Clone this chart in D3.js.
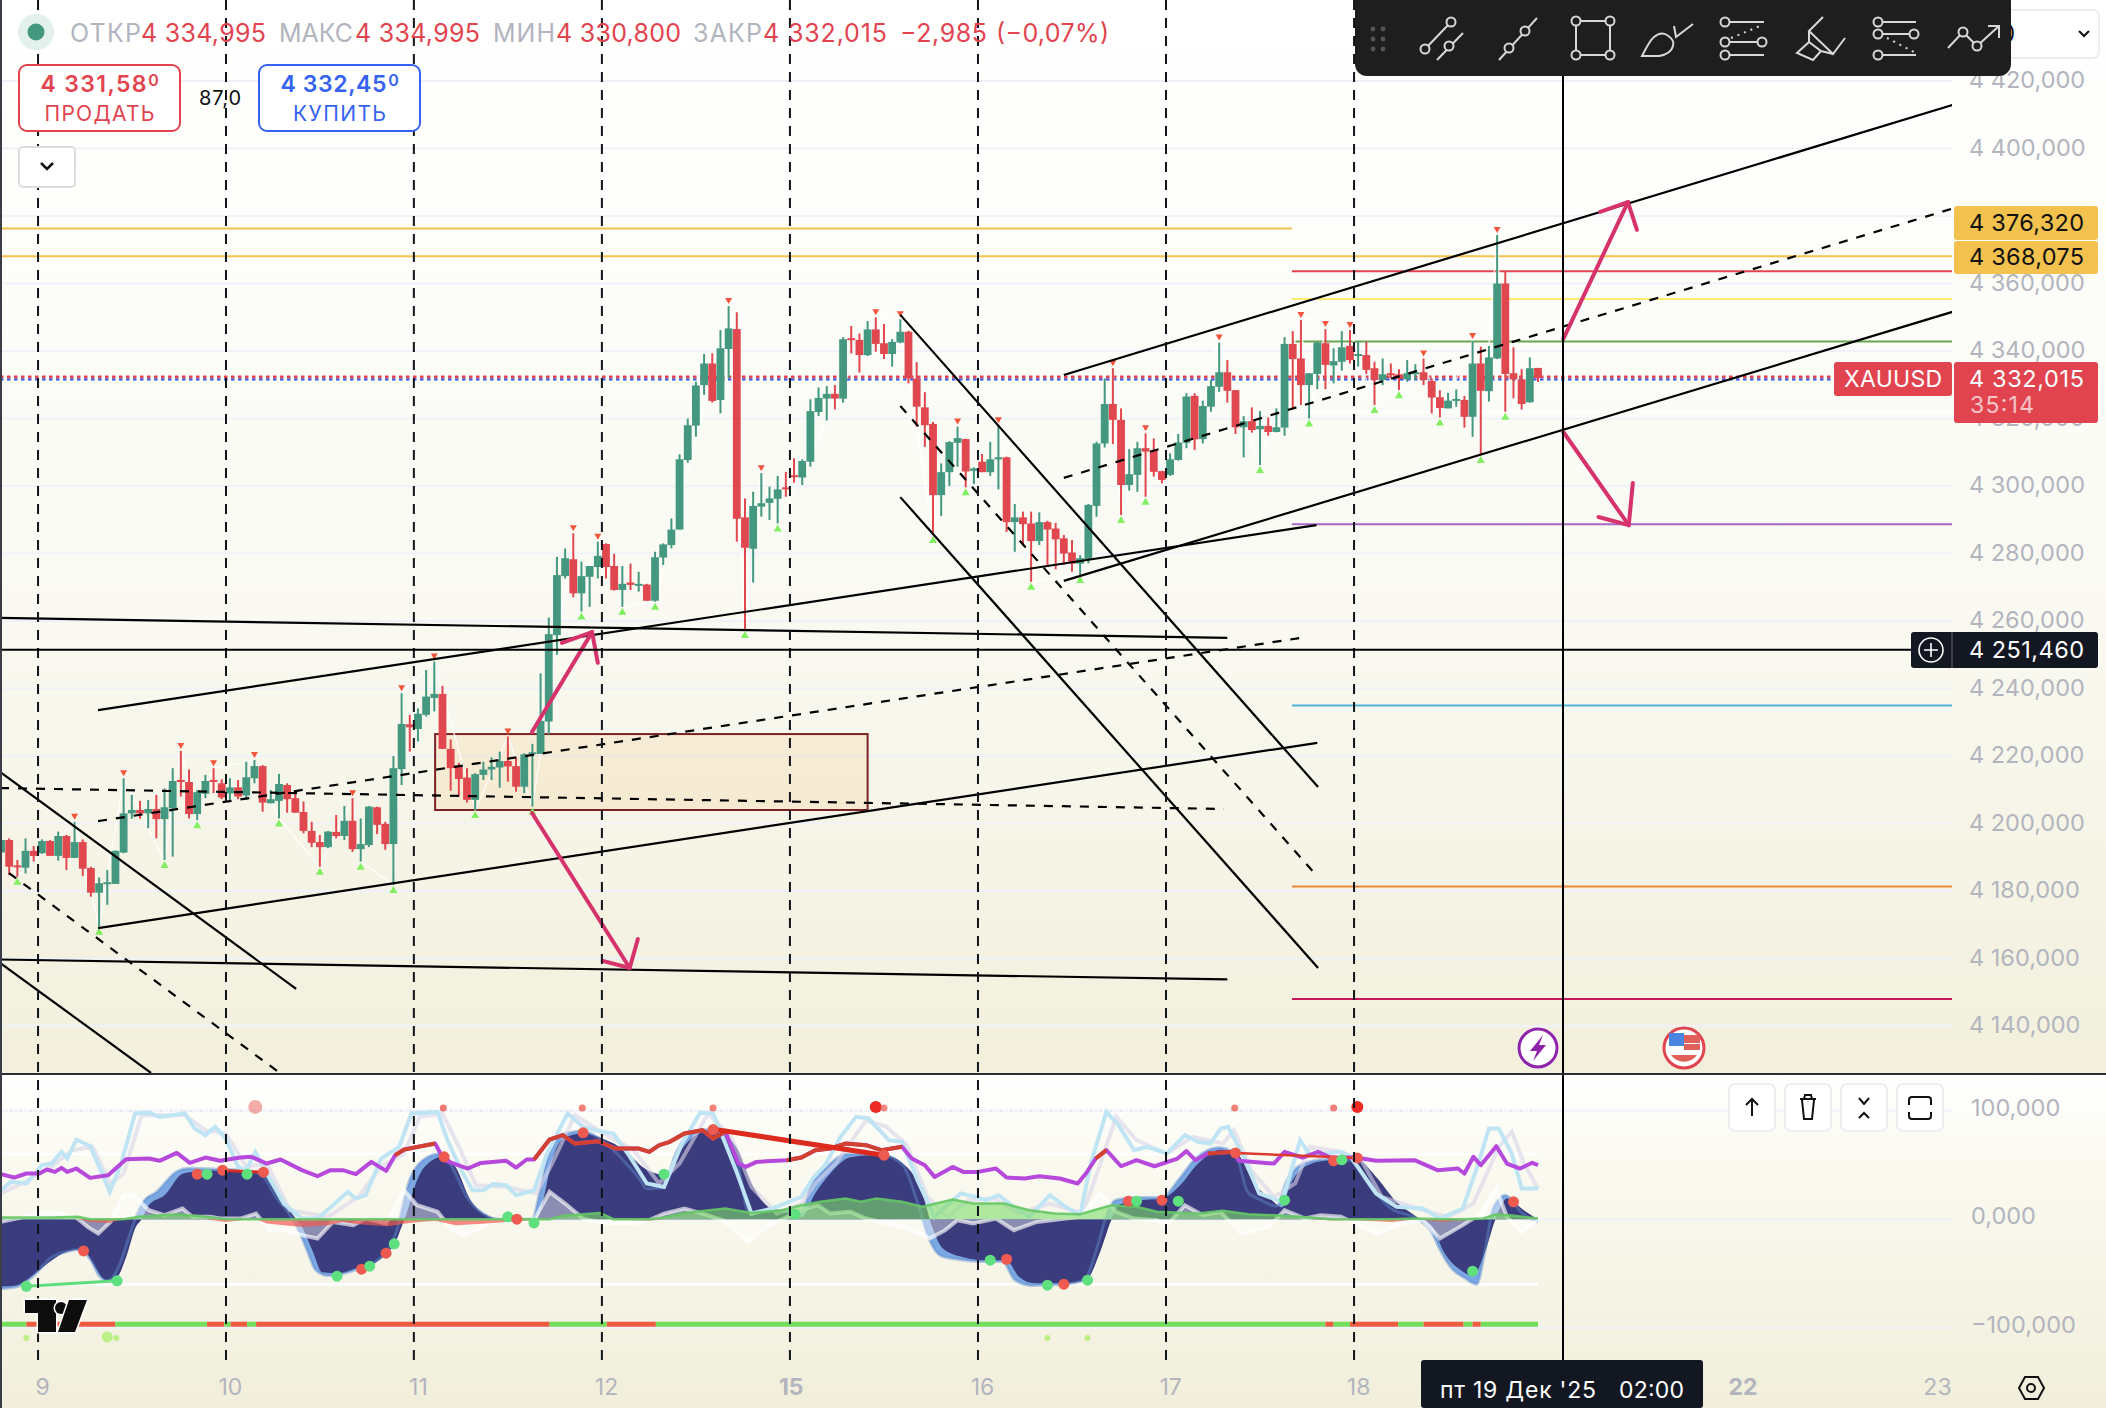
<!DOCTYPE html>
<html><head><meta charset="utf-8">
<script src="https://cdn.jsdelivr.net/npm/d3@7/dist/d3.min.js"></script>
<style>html,body{margin:0;padding:0;background:#fff}svg{display:block}text{font-family:Inter,"Noto Sans",sans-serif}</style>
</head><body><svg id="c" width="2106" height="1408"></svg>
<script>
const opens=[4191.4,4195.1,4187.6,4186.9,4191.9,4191.2,4194.8,4190.4,4196.3,4189.8,
4194.5,4186.8,4179.5,4182.1,4182.1,4191.4,4203,4204,4203,4204.3,
4201.3,4204.5,4212.9,4212.3,4202.8,4208.8,4212.9,4211.9,4208.9,4210.7,
4208.3,4213.4,4217,4206,4206.7,4211.4,4207.5,4203.4,4197.8,4194.5,
4193,4197.5,4196.3,4200.8,4192.4,4193.6,4204.8,4199.9,4193.9,4216.1,
4229.4,4228,4232.2,4237.2,4238.4,4222.1,4216.9,4213.6,4207,4214.4,
4216,4216.6,4218.5,4217,4210.9,4220.5,4220.6,4230.2,4255.8,4273.3,
4278.3,4268.2,4273.1,4276,4282.8,4276.3,4269.2,4271.4,4270.4,4270.8,
4266,4278.8,4282.5,4287.1,4307.7,4317.9,4329.9,4336.3,4325.5,4340.6,
4346.5,4290.7,4281.4,4293.9,4295,4296.2,4299.6,4303.2,4302.5,4307.2,
4321.9,4325.9,4327.3,4325.9,4343.8,4343.3,4338.8,4346.4,4342.3,4339.1,
4342.5,4345.7,4331.8,4323.3,4318.4,4297.3,4304.1,4312.8,4313.9,4304.5,
4307.2,4304.1,4307.9,4308.5,4289.3,4290.7,4288.9,4283.7,4289.3,4287.4,
4284.5,4280.3,4277,4278.3,4294.1,4312.6,4324.3,4319.6,4300.3,4303.3,
4311.2,4310.5,4304.4,4303.3,4307.7,4312.8,4326.7,4313.9,4323.5,4329.4,
4333.7,4328.4,4317.4,4319.2,4316.8,4317.8,4316,4317.3,4342.1,4337.8,
4329.9,4333.2,4342.3,4335.7,4336.8,4341.5,4338.6,4338.8,4334.9,4331.4,
4333.4,4333.1,4331.6,4333.1,4333.7,4331.1,4326.3,4323,4325.3,4325.5,
4320.5,4336.3,4328.1,4337.8,4360,4333.4,4331.6,4324.8,4334.995];
const highs=[4195.6,4195.6,4189.2,4195.6,4193.3,4195.3,4195.1,4197.6,4196.6,4200.5,
4195.3,4187.2,4184,4186.2,4192,4213.4,4208.5,4206.7,4207,4208.5,
4210.4,4216.4,4221.5,4216,4209.9,4214.4,4216.4,4213.1,4213.4,4212.9,
4218.3,4218.8,4217.3,4209.9,4214.7,4211.9,4209.2,4206.5,4200.5,4196.6,
4197.8,4202.5,4205.2,4207.5,4201.5,4205.2,4205,4200.5,4220,4238.6,
4232.2,4234.1,4245.5,4248,4240.8,4224.9,4218,4216.4,4214.9,4218.3,
4219.6,4221.3,4225.8,4219.6,4220.8,4223.6,4244.5,4261,4279,4281.5,
4286,4277.6,4276.3,4283.5,4283,4279.9,4276.3,4277,4274.6,4271,
4280.5,4283,4290.4,4309.4,4320,4330.9,4339.1,4339.3,4346.2,4353.3,
4351.5,4296.3,4298.3,4303.8,4299.8,4303,4304.2,4308.2,4307.9,4325.7,
4329.2,4329.6,4329.9,4344.1,4347.4,4345.2,4348.9,4350,4348,4343.5,
4349.4,4346,4336.7,4327.8,4319,4306.7,4313.3,4317.6,4314,4305.5,
4309.5,4313.1,4318,4308.7,4294.7,4292.4,4292.4,4292.2,4289.7,4289.1,
4285.5,4284,4279.5,4294.7,4313.1,4331.9,4334.9,4323,4310.9,4313.1,
4315.6,4314.1,4304.5,4309.7,4315.4,4327.5,4327.5,4325.3,4331.4,4342.5,
4337.3,4328.4,4320.7,4323.3,4322.2,4320.3,4323,4344.1,4345.9,4349.2,
4333.4,4342.8,4346.5,4340.8,4345.9,4346.2,4342.8,4342.8,4336.8,4337.8,
4336.3,4334.6,4337.3,4336.1,4337.8,4331.9,4328.4,4327.6,4328.6,4326.7,
4343,4341.3,4341.5,4374.4,4363.5,4341.1,4334.6,4338.1,4334.995];
const lows=[4191,4184.7,4184.2,4185.2,4188.7,4191,4190.4,4189,4186.2,4189.8,
4184.4,4178.3,4169.4,4175.9,4182.1,4191.2,4201.4,4201.4,4198.6,4195.6,
4189.2,4190.2,4208,4201.5,4201,4207.5,4209,4207.2,4206.5,4207.2,
4207,4211.9,4203.5,4206,4201.5,4203.2,4203.2,4197.1,4193,4187.2,
4192.7,4195.6,4195.1,4191.6,4188.7,4193,4196.9,4192.2,4181.8,4211.4,
4221.3,4224.3,4231.7,4233.2,4222.1,4209.7,4208,4206.2,4204,4212.9,
4212.9,4210.6,4212.4,4209.4,4209,4205,4220.6,4226.4,4250,4272.6,
4267,4262.8,4264.2,4272.6,4272.6,4269,4264.2,4269.2,4268.7,4266,
4265.7,4276.6,4281.5,4287.1,4306.9,4314.6,4327,4324.7,4321.5,4331.9,
4283.5,4257.3,4271.4,4290.9,4289.9,4288.9,4296.8,4301,4300.3,4305.7,
4320.7,4319.4,4322.7,4324.7,4339.3,4333.6,4338.5,4339.8,4337.6,4335.4,
4342.3,4330.4,4317.6,4311.6,4285.5,4291.1,4300,4305.7,4299.6,4300.6,
4304.1,4303,4299,4286.4,4280.5,4282.5,4271.6,4282.5,4276.6,4275.3,
4276.6,4274.6,4273.6,4277.1,4290.9,4311.4,4312.4,4291.4,4298.6,4298.3,
4296.8,4302.8,4300.8,4303,4307.5,4311.2,4310.7,4312.6,4322,4327.9,
4324.7,4315.4,4308.5,4315.8,4306.2,4314.9,4315.9,4314.9,4323.2,4324,
4320,4328.7,4328.7,4330.4,4334.2,4336.3,4335.4,4333.2,4324,4329.9,
4331.9,4328.4,4330.9,4331.4,4329.9,4321.5,4320.3,4323,4323.5,4317.3,
4314.6,4309.2,4325,4337.6,4322,4326,4322.7,4324.7,4330.8];
const closes=[4195.1,4187.2,4187.2,4191.9,4190.4,4194.8,4190.4,4196.3,4189.8,4194.5,
4186.6,4179.5,4182.3,4182.6,4191.9,4203,4204,4203,4204.3,4201.3,
4204.8,4212.6,4212.3,4202.8,4209.3,4212.6,4212.4,4207.7,4210.7,4208,
4213.7,4217,4206.2,4207.2,4211.7,4207.2,4203.2,4197.8,4194.3,4193,
4197.6,4196.3,4200.8,4192.4,4193.9,4205,4199.6,4193.9,4216.4,4229.5,
4228.5,4232.5,4237.6,4238.4,4222.1,4216.4,4213.2,4207,4214.6,4216,
4216.8,4218.5,4216.9,4210.9,4220.5,4221.1,4230.4,4256.1,4273.6,4278.6,
4268.2,4273.3,4276.3,4279.3,4276,4269.2,4271,4270.7,4271,4266,
4278.9,4282.7,4287.1,4307.9,4318,4329.8,4336.3,4325.2,4340.8,4346.7,
4290.3,4281.7,4294.1,4294.9,4296.3,4299,4299.2,4302.8,4307.4,4322.2,
4326.1,4327.3,4325.9,4343.5,4343.4,4338.8,4346.4,4342.1,4339.1,4342.7,
4345.7,4331.9,4323.5,4318,4297.3,4304.1,4313,4314.2,4304.3,4305.2,
4304.1,4307.9,4308.5,4289.3,4290.7,4288.7,4283.7,4289.3,4287.1,4284.2,
4280,4277,4278.6,4294.4,4312.6,4324.3,4319.6,4300.3,4303.5,4311.2,
4310.2,4304.2,4301.8,4307.9,4312.9,4326.5,4313.8,4323.7,4329.6,4333.7,
4328.2,4317.4,4319.2,4316.6,4317.8,4316,4317.4,4342.1,4337.6,4329.9,
4333.4,4342.5,4335.9,4337,4341.1,4337.3,4339.1,4334.4,4331.4,4333.1,
4332.9,4331.7,4333.4,4333.7,4331.4,4326.2,4323.1,4325.3,4325.8,4320.5,
4336.3,4328.2,4338.1,4360,4333.2,4331.6,4324.3,4334.9,4332.015];

const pivotHighs=[9,15,22,26,31,43,49,53,62,70,73,89,93,107,110,117,122,136,140,149,159,162,165,174,180,183];
const pivotLows=[2,12,20,24,34,39,44,48,58,65,71,76,80,91,95,114,118,126,132,137,140,154,160,168,171,176,181,184];

const priceTicks=d3.range(4140,4421,20);
const oscTicks=[100,0,-100];
const dayBars=[4.53,27.52,50.5,73.5,96.5,119.5,142.5,165.5];
const dayLabels=[[5.02,"9",400],[28,"10",400],[51,"11",400],[74,"12",400],[96.6,"15",700],[120,"16",400],[143,"17",400],[166,"18",400],[213,"22",700],[236.8,"23",400]];

const solidLines=[[[11.87,4233.6],[160.9,4288.4]],[[11.87,4169],[161,4223.9]],[[130,4332.9],[238.7,4412.9]],[[130,4271.9],[238.7,4351.6]],[[110,4350.7],[161.1,4210.8]],[[110,4296.7],[161.1,4157.2]],[[-0.12,4215.3],[36.1,4151]],[[-0.12,4158.7],[18.35,4126.1]],[[-0.12,4260.9],[150,4255]],[[-0.12,4159.7],[150,4153.8]]];
const dashedLines=[[[11.87,4200.7],[159.8,4255.3]],[[130,4302.4],[238.7,4382.2]],[[110,4323.7],[161.1,4184.1]],[[0.98,4185.3],[34.1,4126.1]],[[-0.12,4210.5],[149.6,4204.3]]];
const levels=[[4376.32,-0.12,157.9,"#f2c14e"],[4368.075,-0.12,238.7,"#f2c14e"],[4363.6,157.9,238.7,"#e2444f"],[4355.4,157.9,238.7,"#fdeb6e"],[4349.2,157.9,191,"#ffffff"],[4342.8,158,238.7,"#6aa84f"],[4322,157.9,238.7,"#ffffff"],[4288.7,157.9,238.7,"#ab65c4"],[4235,157.9,238.7,"#4fb3d9"],[4181.3,157.9,238.7,"#ef8a3c"],[4148,157.9,238.7,"#c2185b"]];
const arrows=[[[64.95,4227.1],[72.3,4256.7],[73,4247.6],[68.6,4253.5]],[[64.95,4203.1],[76.9,4157.2],[77.9,4165.8],[73.6,4159.3]],[[191.1,4343.6],[199,4384.1],[200.1,4375.9],[195.6,4381.2]],[[191.1,4316],[199.1,4288.4],[195.4,4290.8],[199.6,4300.9]]];
const zoneBox=[53.1,106,4226.5,4204];

const waveNavy=[[0,-62],[1.9,-61],[3.7,-53],[6.2,-38],[8.1,-30],[10,-28],[11.5,-44],[12.8,-56],[14,-55],[15.3,-35],[16.5,-7],[17.2,0],[18.1,13],[20,22],[22.2,42],[24,44],[27.2,45],[30,44],[32.1,42],[34,22],[35.9,2],[36.8,-7],[38.1,-29],[39.3,-49],[41.2,-50],[44,-44],[45.3,-42],[47.1,-32],[48.2,-22],[49,-7],[49.6,5],[50.6,30],[51.8,48],[54.2,58],[55.6,48],[57.4,18],[59.3,4],[61.2,0],[65.5,0],[66.2,14],[67.4,54],[68.7,74],[71.2,79],[73.7,74],[76.2,64],[78.7,47],[81.1,41],[83,62],[84.9,77],[87.1,82],[89.9,67],[91.8,33],[93.6,13],[95.5,7],[97.9,2],[99.6,24],[101.4,42],[103.9,57],[106.4,59],[108,59],[110.8,48],[112.7,24],[113.9,-7],[115.2,-27],[117.7,-35],[120.8,-38],[123,-38],[124.5,-53],[126.4,-59],[130.2,-59],[132.7,-56],[134.5,-29],[135.8,-1],[136.7,13],[138.9,17],[142,19],[144.2,31],[146.4,51],[149.2,64],[151.1,61],[153.3,33],[155.4,18],[156.7,11],[157.6,30],[159.2,47],[162,54],[165.7,56],[168.2,39],[170.7,16],[173.2,2],[175.1,-7],[176.4,-29],[178.2,-45],[180.1,-52],[181.3,-35],[182.9,2],[184.2,19],[186.3,8],[187.9,0]];
const waveBlue=[[0,-64],[2,-62],[4,-52],[6,-36],[8,-30],[9.5,-28],[11,-38],[12,-52],[13,-57],[14.5,-42],[15.5,-20],[16.5,2],[17.5,17],[19,25],[21.5,44],[23,47],[27,46],[30,45],[32,40],[33.5,22],[35.5,2],[36.5,-12],[37.5,-30],[38.5,-47],[40,-52],[44,-45],[46,-38],[47.5,-26],[48.5,-8],[49,8],[49.8,32],[51,50],[53.5,60],[55,50],[57,20],[59,5],[61,0],[65,0],[65.8,22],[67,62],[68,76],[71,81],[74,70],[76,55],[78,38],[79,28],[81,29],[82.5,60],[84.5,80],[87,83],[90,55],[91.5,5],[93,8],[96,8],[98,8],[99,30],[101,48],[103.5,60],[106,60],[108,59],[110.3,50],[112,18],[113.5,-18],[115,-34],[117,-37],[120,-39],[122.5,-39],[124,-56],[126,-61],[130,-60],[132.5,-56],[134.3,-20],[135.5,10],[136.5,18],[139,20],[142,20],[144,36],[146,55],[149,66],[151,60],[152.5,25],[154,18],[156,12],[157.3,36],[159,50],[162,55],[165,54],[167.5,30],[170,10],[173,1],[175,-12],[176,-28],[177.5,-46],[179,-54],[180.5,-60],[181.5,-30],[182.5,10],[184,22],[186,6],[188,-3]];
const rsiLine=[[0,41.5],[1.6,38.4],[3.1,42.1],[4.7,42.1],[5.6,45.8],[6.6,43.6],[7.4,47.3],[8.1,43.6],[9.2,46.7],[10.9,38.1],[13.1,40.6],[15.3,55.3],[18.1,55.9],[19.4,53.8],[21.5,61.1],[23.1,51.9],[25,56.8],[26.8,53.8],[29.3,56.8],[30.6,57.5],[32.5,51.3],[34.2,55],[36.8,45.2],[38.7,39.6],[40.3,45.2],[41.8,45.2],[43.4,41.5],[45.3,52.8],[47.1,44.5],[48.2,59],[49.3,64.2],[53.1,69.7],[54.2,54.4],[57.1,46.7],[58.7,51.9],[61.8,53.8],[63,47.6],[64.3,55],[65.2,55],[67.1,73.4],[68.7,77.4],[70.2,69.7],[73,71.9],[75.2,65.1],[78,65.1],[79.3,62.1],[80.5,68.2],[81.8,71.3],[83.6,79],[85.8,82],[87.1,74.3],[88.6,80.5],[90.2,51.3],[91.1,48.2],[92.4,52.8],[96.1,54.4],[97.9,56.8],[99.6,63.6],[101.4,65.1],[103.3,69.7],[105.8,68.2],[107.7,63.6],[110.2,66.7],[111.4,55.9],[113,49.8],[114.2,39],[116.4,48.2],[117.7,43.6],[119.5,43.6],[121.7,46.7],[123,38.4],[125.2,37.5],[127,39.6],[129.5,37.5],[131.7,32.9],[132.7,42.1],[133.9,55.9],[135.2,63.6],[137,48.8],[138.9,54.4],[141.1,48.8],[143.9,55.9],[145,62.7],[146.1,54.4],[147.6,60.5],[150.8,62.1],[151.4,53.8],[155.7,51.3],[157,62.1],[159.2,56.8],[161.1,62.1],[162.6,56.8],[165.7,56.8],[168.2,53.8],[172.9,54.4],[175.7,45.2],[178.2,46.7],[179,42.1],[180.1,57.5],[181,49.8],[182.9,67.3],[184.2,51.3],[185.8,46.7],[187.3,52],[188,49.8]];
const rsiRedSpans=[[20.6,22.2],[29.5,31],[48,53.1],[65.2,89],[96,110.2],[133.9,135.8],[147.6,150.8],[157,158],[181.5,183.2]];
const stochFast=[[0,26.7],[1.2,34.4],[3.1,32.9],[5,49.8],[6.2,51.3],[7.4,62.1],[8.1,55.9],[9.2,73.4],[10.9,67.3],[12.2,45.2],[13.3,25.2],[14.7,51.3],[16.4,97.4],[18.1,98],[19.4,94.3],[22.5,97.4],[23.7,83.6],[25,77.4],[26.2,85.1],[27.5,74.3],[29,48.2],[30,45.2],[31.1,62.1],[32.5,42.1],[34.6,14.4],[36.8,0.6],[38.7,0.6],[40.6,12.9],[42.4,25.2],[43.4,19],[44.6,22.1],[46.5,55.9],[48.7,66.7],[50.2,97.4],[53.4,98.9],[54.6,72.8],[56.5,42.1],[57.7,26.7],[59,26.7],[60.2,32.3],[61.8,31.3],[63,22.1],[65.2,26.7],[66.8,60.5],[69.3,97.4],[71.2,85.1],[73.3,81.1],[74.9,79],[76.8,59],[79,32.9],[81.1,29.8],[83.3,69.7],[85.5,98],[87.1,97.4],[88.6,69.7],[89.9,45.2],[91.8,5.2],[94.3,9.8],[97.9,20.6],[99.3,37.5],[100.8,49.8],[102.7,75.9],[104.6,94.3],[106.1,92.8],[108.6,72.8],[110.2,71.3],[112.1,35.9],[114.2,2.2],[115.5,11.4],[117.4,23.7],[119.2,20.6],[120.5,17.5],[122,22.1],[123.9,11.4],[125.8,2.2],[128.3,22.1],[130.2,11.4],[132,3.7],[133.3,51.3],[135.2,98.9],[136.7,86.6],[138.6,63.6],[140.2,66.7],[142.6,60.5],[144.8,77.4],[146.4,71.3],[147.9,69.7],[149.2,83.6],[150.1,85.1],[152,57.4],[153.9,23.7],[156.7,16],[158.9,72.8],[160.1,59],[162,60.5],[163.9,62.1],[165.1,57.4],[168.2,23.7],[170.7,11.4],[173.9,9.8],[176,0.6],[178.8,9.8],[180.7,51.3],[182,83.6],[183.2,83.6],[184.8,60.5],[186,28.3],[188,28.3]];
const stochSlow=[[0,23.7],[2.5,32.9],[6.2,48.2],[8.7,63.6],[11.2,66.7],[13.4,32.9],[15,42.1],[17.2,95.8],[22.5,95.8],[25,82],[27.5,79],[30,48.2],[32.5,51.3],[35.3,8.3],[40,2.2],[43.7,20.6],[46.5,48.2],[49.3,60.5],[51.2,94.3],[54,97.4],[56.2,63.6],[58.1,31.3],[61.8,29.8],[65.5,23.7],[67.4,51.3],[70.2,95.8],[73.7,79],[77.4,63.6],[80.5,32.9],[83,51.3],[86.5,97.4],[89.3,75.9],[91.8,29.8],[94.9,5.2],[97.9,14.4],[99.6,32.9],[102.1,51.3],[105.8,91.2],[108.3,85.1],[110.8,68.2],[113.3,20.6],[115.8,2.2],[118.3,17.5],[121.4,19],[124.5,5.2],[128.3,14.4],[132.3,5.2],[134.2,45.2],[136.4,94.3],[138.9,72.8],[142.6,60.5],[145.8,75.9],[149.5,69.7],[150.8,82],[152.9,45.2],[155.7,20.6],[158.3,32.9],[160.1,66.7],[163.9,62.1],[166.4,54.4],[168.9,20.6],[173.9,8.3],[177,2.2],[180.1,14.4],[183.2,66.7],[184.8,80.5],[186.3,51.3],[188,28.3]];
const whiteSeries=[[0,-2.5],[4.7,5.2],[6.2,6.8],[9.1,2.2],[10.6,-7.1],[11.9,-13.2],[13.4,-2.5],[15,22.1],[16.2,22.1],[18.1,8.3],[20,3.7],[22.2,9.8],[23.4,2.2],[25.6,2.2],[26.8,0.6],[29.3,0.6],[31.2,5.2],[32.8,-10.1],[34.6,-10.1],[36.8,-14.7],[38.7,-17.8],[40.6,-2.5],[43.1,-5.5],[44.6,0.6],[47.1,-4],[49.3,26.7],[50.9,12.9],[53.4,6.8],[55.2,-10.1],[56.5,-14.7],[58.7,-8.6],[60.2,-0.9],[62.4,-2.5],[65.2,-0.9],[67.1,25.2],[69,14.4],[71.2,0.6],[73.7,-4],[77.4,-4],[79.3,-0.9],[81.1,5.2],[83.6,9.8],[85.8,5.2],[88.3,-0.9],[91.4,-20.9],[93.6,-7.1],[97.9,8.3],[99.9,12.9],[101.4,5.2],[103.9,6.8],[105.8,0.6],[108.3,-4],[111.4,-10.1],[113.6,-17.8],[115.5,-10.1],[117,-0.9],[118.9,-4],[121.7,0.6],[123.9,-10.1],[126.7,-2.5],[130.2,0.6],[132,2.2],[134.5,23.7],[136.4,6.8],[138.6,0.6],[141.4,-0.9],[142.6,-5.5],[144.8,12.9],[147,3.7],[149.2,6.8],[151.7,-13.2],[155.1,-7.1],[157,8.3],[159.5,0.6],[161.4,3.7],[163.9,2.2],[168.2,-13.2],[171.4,-4],[173.9,-0.9],[176,-17.8],[178.8,-5.5],[181,5.2],[182.9,28.3],[184.2,2.2],[186,-11.7],[188,-0.9]];
const flowSeries=[[0,1.5],[6.2,1.5],[9.4,2.2],[10.9,-2.5],[13.1,-3.4],[15,0],[16.9,2.2],[21.5,4.6],[25,2.2],[27.5,-2.5],[29.3,-0.9],[31.2,0],[32.5,-4],[36.8,-7.1],[40,-5.5],[41.8,-2.5],[43.7,-4.6],[47.4,-6.5],[49.9,-3.4],[53.1,-1.5],[55.6,-5.5],[59.3,-4],[64.9,-0.9],[67.1,0],[68.7,3.1],[73.3,5.8],[74.9,0],[79.3,-1.5],[81.1,1.5],[83.6,5.8],[88.6,9.8],[91.8,5.8],[95.5,8.3],[97.9,12.9],[100.2,16],[103.3,19],[105.2,16],[107.1,19],[110.2,16],[112.7,11.4],[116.4,18.1],[118.9,14.4],[122.7,14.4],[125.8,8.3],[128.9,5.2],[132,4.6],[135.8,12.9],[138.9,11.4],[141.4,6.8],[146.4,5.2],[149.5,7.7],[152.6,4.6],[156.4,3.4],[160.1,1.5],[162.6,-0.9],[165.7,-0.9],[170.1,-2.5],[173.2,0.6],[176.4,-2.5],[178.8,-0.9],[181.3,0.6],[182.9,4.6],[185.1,3.1],[188,0.6]];
const stateBreaks=[[0,3.1,"g"],[3.1,14,"r"],[14,25.2,"g"],[25.2,27.3,"r"],[27.3,28.1,"g"],[28.1,30.1,"r"],[30.1,31.2,"g"],[31.2,67.1,"r"],[67.1,74.1,"g"],[74.1,80.1,"r"],[80.1,162,"g"],[162,163,"r"],[163,165,"g"],[165,170.9,"r"],[170.9,174,"g"],[174,178.9,"r"],[178.9,180,"g"],[180,181,"r"],[181,188,"g"]];
const signalDots=[[3.1,-61.8,"g"],[10.1,-29.2,"r"],[14.2,-56.8,"g"],[24,41.5,"r"],[25.2,41.5,"g"],[27.1,45.2,"r"],[30.1,41.5,"g"],[32.1,43.3,"r"],[41.1,-52.5,"g"],[44.1,-46.1,"r"],[45.1,-43.3,"g"],[47.1,-31.3,"r"],[48.1,-22.7,"g"],[54.2,57.5,"r"],[62,2.2,"g"],[63.1,0,"r"],[65.2,-3.4,"g"],[71.2,79.6,"r"],[81.1,41.5,"g"],[87.1,82.6,"r"],[97.1,4.6,"g"],[108,59,"r"],[121,-37.8,"g"],[123,-36.9,"r"],[128,-60.8,"g"],[130,-59.9,"r"],[132.9,-56.2,"g"],[137.9,16.6,"r"],[138.9,16.6,"g"],[142,17.5,"r"],[144,16.6,"g"],[151,61.1,"r"],[157,17.5,"g"],[163,53.8,"r"],[164,54.7,"g"],[165.9,56.5,"r"],[180,-47.9,"g"],[185,16,"r"]];
const topDots=[[31.1,103.5,7,0.55,"#ee6a62"],[54.1,102.6,3.5,0.9,"#ee6a62"],[71.1,102.6,3.5,0.85,"#ee6a62"],[87.1,102.6,3.5,0.85,"#ee6a62"],[107,103.5,6,1,"#ee2a22"],[108,102.6,3.5,0.8,"#ee6a62"],[150.9,102.6,3.5,0.85,"#ee6a62"],[163,102.6,3.5,0.85,"#ee6a62"],[165.9,103.5,6,1,"#ee2a22"]];
const bottomDots=[[3.1,-109.4,3,0.9],[13,-108.5,5.5,0.9],[14.1,-109.4,3,0.9],[128,-109.4,3,0.9],[132.9,-109.4,3,0.9]];
const divergences=[[[87.1,83],[108,59],"#dd2a1e",5],[[27.1,45],[32.1,43.3],"#dd2a1e",3],[[151,61],[165.9,56.5],"#dd3a2e",2.5],[[3.1,-61.8],[14.2,-56.8],"#5fdc7c",3]];
const toolIconX=[1442,1518,1593,1668,1743,1821,1895,1973];
const hdr=[["ОТКР",70,71,"#b2b5be"],["4 334,995",141,125,"#e2444f"],["МАКС",279,74,"#b2b5be"],["4 334,995",355,125,"#e2444f"],["МИН",493,62,"#b2b5be"],["4 330,800",556,125,"#e2444f"],["ЗАКР",693,69,"#b2b5be"],["4 332,015",763,124,"#e2444f"],["−2,985",900,87,"#e2444f"],["(−0,07%)",996,113,"#e2444f"]];

const svg=d3.select("#c");
const defs=svg.append("defs");
function grad(id,stops){const g=defs.append("linearGradient").attr("id",id).attr("x1",0).attr("x2",0).attr("y1",0).attr("y2",1);stops.forEach(s=>g.append("stop").attr("offset",s[0]).attr("stop-color",s[1]));}
grad("bg1",[[0,"#ffffff"],[0.55,"#fafaf3"],[1,"#f2efdc"]]);
grad("bg2",[[0,"#ffffff"],[0.25,"#fbfaf1"],[1,"#f1eedb"]]);
defs.append("clipPath").attr("id","top").append("rect").attr("x",0).attr("y",0).attr("width",1952).attr("height",1073);
defs.append("clipPath").attr("id","bot").append("rect").attr("x",0).attr("y",1075).attr("width",1952).attr("height",285);

const x=d3.scaleLinear().domain([0,188]).range([1,1538]);
const y=d3.scaleLinear().domain([4420,4140]).range([81,1026]);
const yo=d3.scaleLinear().domain([100,-100]).range([1110.7,1327.7]);
const fmtP=d=>{const s=d.toFixed(3).replace(".",",");return s[0]+"\u00a0"+s.slice(1);};
const fmtO=d=>(d<0?"−":"")+Math.abs(d).toFixed(3).replace(".",",");

svg.append("rect").attr("width",2106).attr("height",1074).attr("fill","url(#bg1)");
svg.append("rect").attr("y",1074).attr("width",2106).attr("height",334).attr("fill","url(#bg2)");

const gridCol="#eff2f8";
svg.append("g").selectAll("line").data(priceTicks).join("line").attr("x1",0).attr("x2",1952).attr("y1",d=>y(d)).attr("y2",d=>y(d)).attr("stroke",gridCol).attr("stroke-width",2);
svg.append("g").selectAll("line").data(oscTicks).join("line").attr("x1",0).attr("x2",1952).attr("y1",d=>yo(d)).attr("y2",d=>yo(d)).attr("stroke",gridCol).attr("stroke-width",2);

const T=svg.append("g").attr("clip-path","url(#top)");
T.append("rect").attr("x",x(zoneBox[0])).attr("width",x(zoneBox[1])-x(zoneBox[0])).attr("y",y(zoneBox[2])).attr("height",y(zoneBox[3])-y(zoneBox[2])).attr("fill","#f3b25e").attr("fill-opacity",.16).attr("stroke","#7b2226").attr("stroke-width",2);
T.selectAll(".lv").data(levels).join("line").attr("x1",d=>x(d[1])).attr("x2",d=>x(d[2])).attr("y1",d=>y(d[0])).attr("y2",d=>y(d[0])).attr("stroke",d=>d[3]).attr("stroke-width",2);
T.append("line").attr("x1",0).attr("x2",1834).attr("y1",y(4332.015)-1).attr("y2",y(4332.015)-1).attr("stroke","#e2444f").attr("stroke-width",3).attr("stroke-dasharray","3.5 3.5");
T.append("line").attr("x1",0).attr("x2",1834).attr("y1",y(4332.015)+1.5).attr("y2",y(4332.015)+1.5).attr("stroke","#3056f0").attr("stroke-width",2).attr("stroke-dasharray","3.5 3.5");
const pivots=pivotHighs.map(k=>[k,highs[k]]).concat(pivotLows.map(k=>[k,lows[k]])).sort((a,b)=>a[0]-b[0]);
T.append("path").attr("d",d3.line().x(d=>x(d[0])).y(d=>y(d[1]))(pivots)).attr("fill","none").attr("stroke","#fff").attr("stroke-opacity",.75).attr("stroke-width",1.6);
const bars=d3.range(opens.length);
const col=k=>closes[k]>=opens[k]?"#459880":"#e0474f";
T.selectAll(".w").data(bars).join("line").attr("x1",k=>x(k)).attr("x2",k=>x(k)).attr("y1",k=>y(highs[k])).attr("y2",k=>y(lows[k])).attr("stroke",col).attr("stroke-width",2);
T.selectAll(".b").data(bars).join("rect").attr("x",k=>x(k)-3.9).attr("width",7.8).attr("y",k=>y(Math.max(opens[k],closes[k]))).attr("height",k=>Math.max(2,Math.abs(y(opens[k])-y(closes[k])))).attr("fill",col);
T.selectAll(".th").data(pivotHighs).join("path").attr("d",k=>{const X=x(k),Y=y(highs[k])-2;return `M${X-3.5},${Y-6}L${X+3.5},${Y-6}L${X},${Y}Z`}).attr("fill","#f2553c");
T.selectAll(".tl").data(pivotLows).join("path").attr("d",k=>{const X=x(k),Y=y(lows[k])+1;return `M${X-4},${Y+7}L${X+4},${Y+7}L${X},${Y}Z`}).attr("fill","#80f060");
const ln=(sel,d,dash,w,c)=>sel.append("line").attr("x1",x(d[0][0])).attr("y1",y(d[0][1])).attr("x2",x(d[1][0])).attr("y2",y(d[1][1])).attr("stroke",c).attr("stroke-width",w).attr("stroke-dasharray",dash);
solidLines.forEach(d=>ln(T,d,null,2.2,"#000"));
dashedLines.forEach(d=>ln(T,d,"9 9",2.2,"#000"));
arrows.forEach(a=>{
 ln(T,[a[0],a[1]],null,4,"#d6336c").attr("stroke-linecap","round");
 ln(T,[a[2],a[1]],null,4,"#d6336c").attr("stroke-linecap","round");
 ln(T,[a[3],a[1]],null,4,"#d6336c").attr("stroke-linecap","round");
});

const O=svg.append("g").attr("clip-path","url(#bot)");
const L=d3.line().x(d=>x(d[0])).y(d=>yo(d[1]));
const A=d3.area().x(d=>x(d[0])).y0(yo(0)).y1(d=>yo(d[1]));
const mono=d3.curveMonotoneX, lin=d3.curveLinear;
O.append("line").attr("x1",0).attr("x2",1538).attr("y1",yo(100)).attr("y2",yo(100)).attr("stroke","#dfe6f2").attr("stroke-width",2).attr("stroke-dasharray","2 8");
[60,-60].forEach(v=>O.append("line").attr("x1",0).attr("x2",1538).attr("y1",yo(v)).attr("y2",yo(v)).attr("stroke","#fff").attr("stroke-width",2.5));
O.append("path").attr("d",A.curve(mono)(waveBlue)).attr("fill","#7ba7e3");
O.append("path").attr("d",A.curve(mono)(waveNavy)).attr("fill","#3a3c7d");
O.append("path").attr("d",L.curve(mono)(waveBlue)).attr("fill","none").attr("stroke","#5f8ccf").attr("stroke-opacity",.45).attr("stroke-width",3);
A.curve(lin);L.curve(lin);
O.append("path").attr("d",L(stochSlow)).attr("fill","none").attr("stroke","#d9d3ea").attr("stroke-opacity",.6).attr("stroke-width",4);
O.append("path").attr("d",L(stochFast)).attr("fill","none").attr("stroke","#bfe4f3").attr("stroke-width",4);
O.append("path").attr("d",A(whiteSeries)).attr("fill","#fff").attr("fill-opacity",.42);
O.append("path").attr("d",L(whiteSeries)).attr("fill","none").attr("stroke","#fff").attr("stroke-opacity",.65).attr("stroke-width",4);
const flowUp=flowSeries.map(d=>[d[0],Math.max(0,d[1])]),flowDn=flowSeries.map(d=>[d[0],Math.min(0,d[1])]);
O.append("path").attr("d",A(flowUp)).attr("fill","#7fdc6a").attr("fill-opacity",.6);
O.append("path").attr("d",A(flowDn)).attr("fill","#ef5a50").attr("fill-opacity",.7);
O.append("path").attr("d",L(flowUp)).attr("fill","none").attr("stroke","#65c765").attr("stroke-width",2.5).attr("stroke-opacity",.9);
O.append("path").attr("d",L(rsiLine)).attr("fill","none").attr("stroke","#b648dc").attr("stroke-width",4).attr("stroke-linejoin","round");
rsiRedSpans.forEach(s=>{O.append("path").attr("d",L(rsiLine.filter(d=>d[0]>=s[0]&&d[0]<=s[1]))).attr("fill","none").attr("stroke","#d2402f").attr("stroke-width",4);});
divergences.forEach(d=>O.append("line").attr("x1",x(d[0][0])).attr("y1",yo(d[0][1])).attr("x2",x(d[1][0])).attr("y2",yo(d[1][1])).attr("stroke",d[2]).attr("stroke-width",d[3]));
O.selectAll(".sb").data(stateBreaks).join("rect").attr("x",d=>x(d[0])).attr("width",d=>x(d[1])-x(d[0])).attr("y",yo(-96.8)-2.5).attr("height",5).attr("fill",d=>d[2]==="g"?"#74de5c":"#ee5a42");
O.selectAll(".sd").data(signalDots).join("circle").attr("cx",d=>x(d[0])).attr("cy",d=>yo(d[1])).attr("r",5.5).attr("fill",d=>d[2]==="g"?"#5fe07e":"#ee5a50");
O.selectAll(".td").data(topDots).join("circle").attr("cx",d=>x(d[0])).attr("cy",d=>yo(d[1])).attr("r",d=>d[2]).attr("fill",d=>d[4]).attr("fill-opacity",d=>d[3]);
O.selectAll(".bd").data(bottomDots).join("circle").attr("cx",d=>x(d[0])).attr("cy",d=>yo(d[1])).attr("r",d=>d[2]).attr("fill","#b7f07c").attr("fill-opacity",d=>d[3]);

svg.append("g").selectAll("line").data(dayBars).join("line").attr("x1",d=>x(d)).attr("x2",d=>x(d)).attr("y1",0).attr("y2",1360).attr("stroke","#12141c").attr("stroke-width",2).attr("stroke-dasharray","10 8");
svg.append("line").attr("x1",0).attr("x2",1912).attr("y1",y(4251.46)).attr("y2",y(4251.46)).attr("stroke","#000").attr("stroke-width",2);
svg.append("line").attr("x1",1563).attr("x2",1563).attr("y1",70).attr("y2",1360).attr("stroke","#000").attr("stroke-width",2);
svg.append("rect").attr("y",1073).attr("width",2106).attr("height",2).attr("fill","#2a2e39");
svg.append("rect").attr("width",2).attr("height",1408).attr("fill","#3a3d46");

const axP=svg.append("g").attr("transform","translate(1954,-1)").call(d3.axisRight(y).tickValues(priceTicks.filter(d=>d!==4380)).tickFormat(fmtP).tickSize(0).tickPadding(15));
const axO=svg.append("g").attr("transform","translate(1954,-3)").call(d3.axisRight(yo).tickValues(oscTicks).tickFormat(fmtO).tickSize(0).tickPadding(17));
[axP,axO].forEach(a=>{a.select(".domain").remove();a.selectAll("text").attr("font-size",23.5).attr("fill","#b2b5be").attr("font-family","Inter");});
const axX=svg.append("g").attr("transform","translate(0,1378)").call(d3.axisBottom(x).tickValues(dayLabels.map(d=>d[0])).tickFormat(d=>dayLabels.find(l=>l[0]===d)[1]).tickSize(0).tickPadding(0));
axX.select(".domain").remove();
axX.selectAll("text").attr("font-size",23).attr("fill","#b2b5be").attr("font-family","Inter").attr("dy","0.72em").attr("font-weight",d=>dayLabels.find(l=>l[0]===d)[2]);

function tx(s,X,Y,opt={}){const t=svg.append("text").attr("x",X).attr("y",Y).attr("font-size",opt.fs||20).attr("fill",opt.c||"#000").attr("text-anchor",opt.a||"start").attr("dominant-baseline","central").text(s);
 if(opt.w)t.attr("font-weight",opt.w); if(opt.len)t.attr("textLength",opt.len).attr("lengthAdjust","spacing"); if(opt.op)t.attr("fill-opacity",opt.op); return t;}
svg.append("circle").attr("cx",36).attr("cy",32).attr("r",18).attr("fill","#e3f1ec");
svg.append("circle").attr("cx",36).attr("cy",32).attr("r",8.5).attr("fill","#459880");
hdr.forEach(h=>tx(h[0],h[1],33,{c:h[3],len:h[2],fs:25}));
function tradeBox(X,W,c,price,sup,label,labW){
 svg.append("rect").attr("x",X).attr("y",65).attr("width",W).attr("height",66).attr("rx",8).attr("fill","#fff").attr("stroke",c).attr("stroke-width",2);
 tx(price,X+W/2-6,84,{c,fs:23,a:"middle",w:600,len:106});
 tx(sup,X+W/2+54,80,{c,fs:16,a:"middle",w:600});
 tx(label,X+W/2,113,{c,fs:21,a:"middle",len:labW});
}
tradeBox(19,161,"#e2444f","4 331,58","0","ПРОДАТЬ",110);
tradeBox(259,161,"#3563f0","4 332,45","0","КУПИТЬ",93);
tx("87,0",220,98,{fs:20,a:"middle",c:"#111",len:42});
svg.append("rect").attr("x",19).attr("y",147).attr("width",56).attr("height",40).attr("rx",4).attr("fill","#fff").attr("stroke","#dcdcdc").attr("stroke-width",2);
svg.append("path").attr("d","M41,163l6,6l6,-6").attr("fill","none").attr("stroke","#111").attr("stroke-width",2.5);

// toolbar
svg.append("rect").attr("x",1990).attr("y",10).attr("width",109).attr("height",48).attr("rx",6).attr("fill","#fff").attr("stroke","#eeeeee").attr("stroke-width",2);
tx("0",2000,33,{fs:24,c:"#111"});
svg.append("path").attr("d","M2079,31l5,5l5,-5").attr("fill","none").attr("stroke","#111").attr("stroke-width",2);
svg.append("rect").attr("x",1355).attr("y",-10).attr("width",656).attr("height",86).attr("rx",12).attr("fill","#1e1e1e");
[0,1].forEach(i=>[0,1,2].forEach(j=>svg.append("circle").attr("cx",1373+i*10).attr("cy",29+j*10).attr("r",2.4).attr("fill","#555")));
const I=svg.append("g").attr("fill","none").attr("stroke","#d8d8d8").attr("stroke-width",2);
const circ=(g,a,b,r=4.5)=>g.append("circle").attr("cx",a).attr("cy",b).attr("r",r).attr("fill","#1e1e1e");
const pth=(g,d)=>g.append("path").attr("d",d);
const icons=[
 g=>{pth(g,"M-17,11L9,-16M-5,22L21,-5");circ(g,9,-16);circ(g,-17,11);circ(g,7,8);},
 g=>{pth(g,"M-19,22L19,-20");circ(g,-9,10);circ(g,7,-7);},
 g=>{pth(g,"M-17,-17H17V17H-17Z");circ(g,-17,-17);circ(g,17,-17);circ(g,-17,17);circ(g,17,17);},
 g=>{pth(g,"M-26,18Q-18,2 -14,-1Q-7,-7 -1,-3Q7,2 5,8Q3,16 -9,18ZM6,-12L8,-1L25,-14");},
 g=>{pth(g,"M-17,-16H21M-17,4H19M-17,17H21");pth(g,"M-12,0L17,-12").attr("stroke-dasharray","2 5");circ(g,-18,-16);circ(g,-18,4);circ(g,19,4);circ(g,-18,17);},
 g=>{pth(g,"M2,-21L-12,-7L12,16L24,0M-12,-7V4L-24,15L-8,22L0,13M-12,4L0,13L12,16");},
 g=>{pth(g,"M-17,-16H21M-17,-4H19M-17,17H21");pth(g,"M-8,0L19,14").attr("stroke-dasharray","2 5");circ(g,-17,-16);circ(g,-17,-4);circ(g,19,-4);circ(g,-17,17);},
 g=>{pth(g,"M-25,10L-10,-6L4,8L26,-12M15,-12H26V0");circ(g,-10,-6);circ(g,4,8);}
];
toolIconX.forEach((X,i)=>{const g=I.append("g").attr("transform",`translate(${X},38)`);icons[i](g);});

// axis tags
function tag(X,Y,W,H,c){svg.append("rect").attr("x",X).attr("y",Y).attr("width",W).attr("height",H).attr("rx",3).attr("fill",c);}
tag(1954,206,144,34,"#f2c14e");tag(1954,241,144,33,"#f2c14e");
const tagText=(s,Y,c)=>tx(s,1969,Y,{fs:23.5,c,len:115});
tagText("4 376,320",222,"#111");tagText("4 368,075",256,"#111");
tag(1834,362,118,34,"#e2444f");tx("XAUUSD",1893,379,{fs:23,c:"#fff",a:"middle",len:98});
tag(1954,362,144,61,"#e2444f");tagText("4 332,015",378,"#fff");
tx("35:14",1970,405,{fs:23,c:"#fff",op:.7,len:64});
tag(1911,632,187,36,"#131722");
svg.append("rect").attr("x",1951).attr("y",632).attr("width",2).attr("height",36).attr("fill","#3a3d46");
svg.append("circle").attr("cx",1931).attr("cy",650).attr("r",12).attr("fill","none").attr("stroke","#fff").attr("stroke-width",1.6);
svg.append("path").attr("d","M1924,650H1938M1931,643V657").attr("stroke","#fff").attr("stroke-width",1.6);
tagText("4 251,460",649,"#fff");

// event badges
svg.append("circle").attr("cx",1538).attr("cy",1048).attr("r",21).attr("fill","#fff");
svg.append("circle").attr("cx",1538).attr("cy",1048).attr("r",19).attr("fill","#fff").attr("stroke","#8e24aa").attr("stroke-width",3);
svg.append("path").attr("d","M1543,1035L1530,1051H1537L1533,1061L1546,1045H1539Z").attr("fill","#8e24aa");
svg.append("circle").attr("cx",1684).attr("cy",1048).attr("r",20).attr("fill","#fff").attr("stroke","#e2444f").attr("stroke-width",3);
svg.append("rect").attr("x",1669).attr("y",1035).attr("width",31).attr("height",8).attr("fill","#e2605a");
svg.append("rect").attr("x",1669).attr("y",1033).attr("width",15).attr("height",13).attr("fill","#4a86e0");
svg.append("rect").attr("x",1684).attr("y",1044).attr("width",16).attr("height",6).attr("fill","#e2605a");
svg.append("path").attr("d","M1671,1055H1697A16,16 0 0 1 1671,1055Z").attr("fill","#e2605a");

// pane buttons
const btnX=[1729,1785,1841,1897];
btnX.forEach(X=>svg.append("rect").attr("x",X).attr("y",1084).attr("width",46).attr("height",47).attr("rx",6).attr("fill","#fff").attr("stroke","#eeeeee").attr("stroke-width",2));
const bi=svg.append("g").attr("fill","none").attr("stroke","#111").attr("stroke-width",2);
bi.append("path").attr("d","M1752,1116V1099M1746,1105L1752,1099L1758,1105");
bi.append("path").attr("d","M1800,1099H1816M1804,1099L1805,1095H1811L1812,1099M1802,1100L1804,1119H1812L1814,1100");
bi.append("path").attr("d","M1859,1098L1864,1104L1869,1098M1859,1118L1864,1113L1869,1118");
bi.append("path").attr("d","M1909,1105V1100Q1909,1097 1912,1097H1928Q1931,1097 1931,1100V1105M1909,1112V1116Q1909,1119 1912,1119H1928Q1931,1119 1931,1116V1112");

// time tag
svg.append("rect").attr("x",1421).attr("y",1360).attr("width",282).attr("height",48).attr("rx",3).attr("fill","#131722");
tx("пт 19 Дек '25",1440,1390,{fs:23,c:"#fff",len:156});
tx("02:00",1619,1390,{fs:23,c:"#fff",len:65});
// gear
svg.append("path").attr("d","M2019,1388L2025,1377H2038L2044,1388L2038,1399H2025Z").attr("fill","none").attr("stroke","#111").attr("stroke-width",2);
svg.append("circle").attr("cx",2031).attr("cy",1388).attr("r",4).attr("fill","none").attr("stroke","#111").attr("stroke-width",2);

// logo
const logo=svg.append("g").attr("stroke","#fff").attr("stroke-width",3).attr("paint-order","stroke").attr("fill","#0d0d0d");
logo.append("path").attr("d","M25,1300H56V1332H38V1313H25Z");
logo.append("circle").attr("cx",61).attr("cy",1308).attr("r",6);
logo.append("path").attr("d","M69,1300H87L75,1332H58Z");
</script></body></html>
